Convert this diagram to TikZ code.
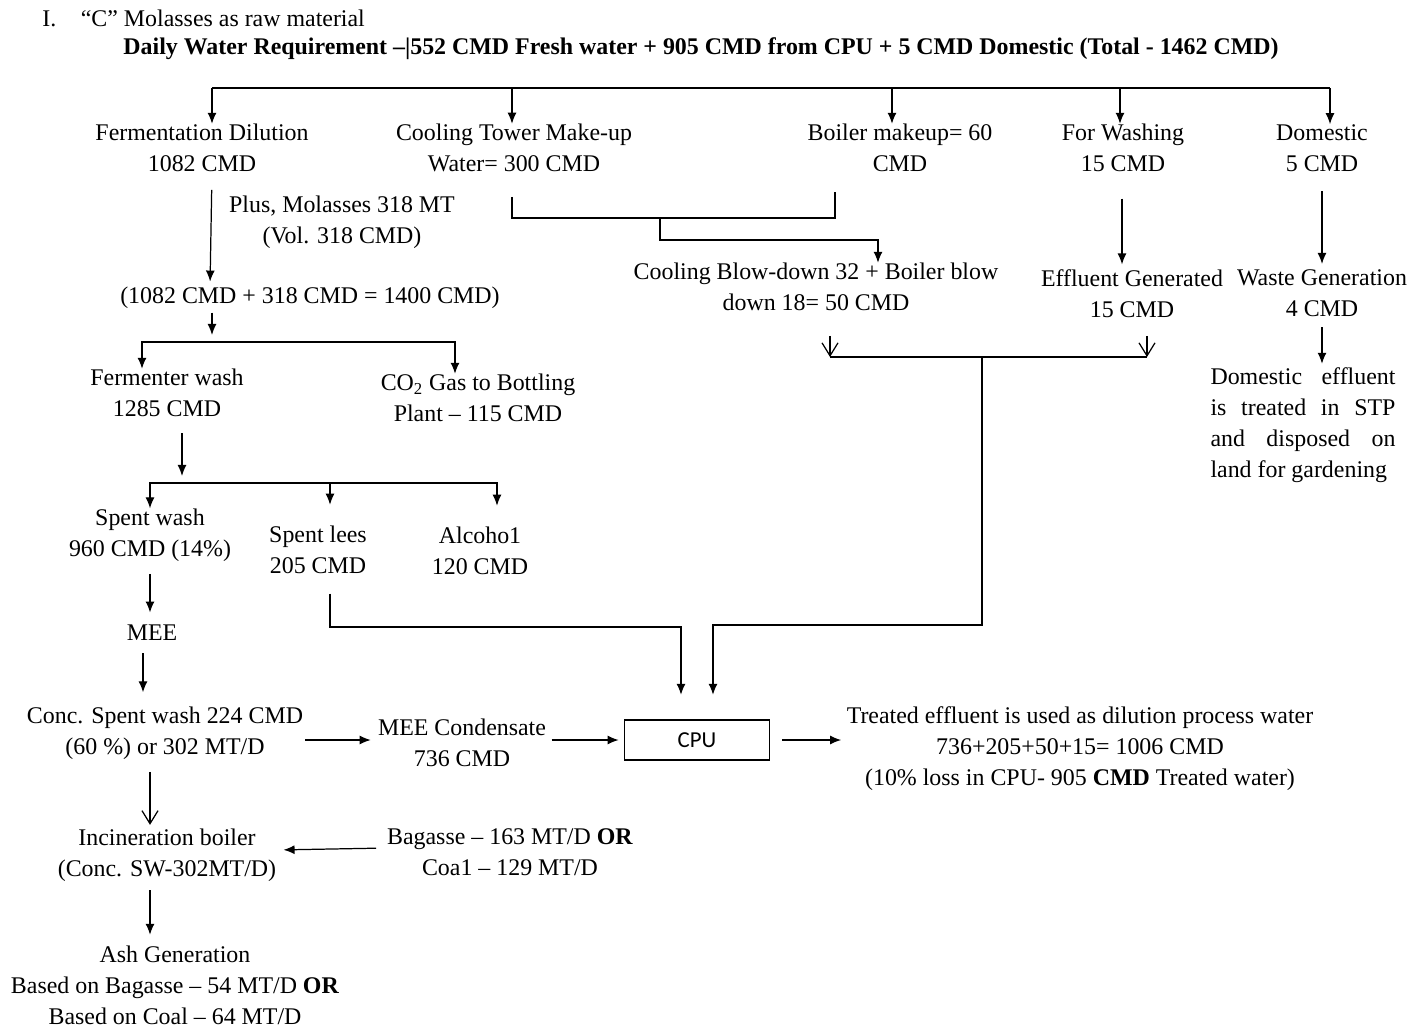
\documentclass[tikz,border=0pt]{standalone}
\usepackage{fontspec}
\setmainfont{Liberation Serif}
\newfontfamily\cpufont{Carlito}
\usetikzlibrary{arrows.meta, positioning}
\tikzstyle{txt} = [inner sep=0pt, align=center, font=\fontsize{13.6pt}{17.6pt}\selectfont]
\tikzstyle{unit} = [draw, rectangle, line width=0.7pt, minimum width=2.9cm, minimum height=0.8cm, inner sep=0pt, font=\cpufont\fontsize{13pt}{15pt}\selectfont]
\tikzstyle{pipe} = [line width=0.7pt]
\tikzstyle{cable} = [pipe, -{Latex[length=2.2mm,width=1.8mm]}]
\tikzstyle{vent} = [pipe, -{Straight Barb[length=2.6mm,width=3.2mm]}]

\begin{document}
\begin{tikzpicture}[x=0.02cm, y=-0.02cm]
\useasboundingbox (0,0) rectangle (1414,1031);
  % heading
  \node (head) [txt, anchor=west] at (42,18) {I.\hspace{14pt}“C” Molasses as raw material};
  \node (req) [txt, font=\bfseries\fontsize{13.6pt}{17.6pt}\selectfont] at (701,49) {Daily Water Requirement –|552 CMD Fresh water + 905 CMD from CPU + 5 CMD Domestic (Total - 1462 CMD)};

  % water split
  \node (ferm) [txt] at (202,148) {Fermentation Dilution\\1082 CMD};
  \node (cool) [txt] at (514,148) {Cooling Tower Make-up\\Water= 300 CMD};
  \node (boil) [txt] at (900,148) {Boiler makeup= 60\\CMD};
  \node (wash) [txt] at (1123,148) {For Washing\\15 CMD};
  \node (dom) [txt] at (1322,148) {Domestic\\5 CMD};
  \draw [pipe] (212,88) -- (1330,88);
  \foreach \x/\n in {212/ferm, 512/cool, 892/boil, 1120/wash, 1330/dom}
    \draw [cable] (\x,88) -- (\n.north -| \x,88);

  % fermentation
  \node (plus) [txt] at (342,222) {Plus, Molasses 318 MT\\(Vol. 318 CMD)};
  \node (sum) [txt] at (310,298) {(1082 CMD + 318 CMD = 1400 CMD)};
  \draw [cable, shorten <=10pt, shorten >=3pt] (ferm.south -| 212,0) -- (sum.north -| 210,0);
  \coordinate (fk2) at (212,342);
  \draw [cable, shorten <=2pt, shorten >=4pt] (sum.south -| fk2) -- (fk2);
  \node (fwash) [txt] at (167,393) {Fermenter wash\\1285 CMD};
  \node (co2) [txt] at (478,398) {CO\textsubscript{2} Gas to Bottling\\Plant – 115 CMD};
  \draw [cable] (fk2) -| (fwash.north -| 142,0);
  \draw [cable] (fk2) -| (co2.north -| 455,0);

  \coordinate (fk3) at (182,483);
  \draw [cable, shorten <=9pt, shorten >=4pt] (fwash.south -| fk3) -- (fk3);
  \node (spent) [txt] at (150,535) {Spent wash\\960 CMD (14\%)};
  \node (lees) [txt] at (318,550) {Spent lees\\205 CMD};
  \node (alc) [txt] at (480,551) {Alcoho1\\120 CMD};
  \draw [cable] (fk3) -| (spent.north -| 150,0);
  \draw [cable, shorten >=12pt] (fk3) -| (lees.north -| 330,0);
  \draw [cable, shorten >=12pt] (fk3) -| (alc.north -| 497,0);

  % spent wash treatment
  \node (mee) [txt] at (152,633) {MEE};
  \node (conc) [txt] at (165,733) {Conc. Spent wash 224 CMD\\(60 \%) or 302 MT/D};
  \node (meec) [txt] at (462,743) {MEE Condensate\\736 CMD};
  \node (cpu) [unit] at (697,740) {CPU};
  \node (treated) [txt] at (1080,749) {Treated effluent is used as dilution process water\\736+205+50+15= 1006 CMD\\(10\% loss in CPU- 905 \textbf{CMD} Treated water)};
  \draw [cable, shorten <=7pt, shorten >=7pt] (spent.south -| 150,0) -- (mee.north -| 150,0);
  \draw [cable, shorten <=7pt, shorten >=8pt] (mee.south -| 143,0) -- (conc.north -| 143,0);
  \draw [cable, shorten <=1pt, shorten >=4pt] (conc.east |- 0,740) -- (meec.west |- 0,740);
  \draw [cable, shorten <=3pt, shorten >=3pt] (meec.east |- cpu) -- (cpu.west);
  \draw [cable, shorten <=7pt, shorten >=3pt] (cpu.east) -- (treated.west |- cpu);

  % spent lees to CPU
  \coordinate (lj) at (681,627);
  \draw [cable, shorten <=11pt, shorten >=14pt] (lees.south -| 330,0) |- (lj) -- (cpu.north -| lj);

  % blow-down and washing effluent
  \node (blow) [txt] at (816,287) {Cooling Blow-down 32 + Boiler blow\\down 18= 50 CMD};
  \node (effl) [txt] at (1132,294) {Effluent Generated\\15 CMD};
  \node (waste) [txt] at (1322,293) {Waste Generation\\4 CMD};
  \node (domtxt) [txt, align=justify, text width=3.7cm] at (1303,425) {Domestic effluent\linebreak is treated in STP\linebreak and disposed on\linebreak land for gardening};
  \draw [pipe, shorten <=14pt, shorten >=11pt] (cool.south -| 512,0) |- (835,218) -- (boil.south -| 835,0);
  \coordinate (cb) at (660,218);
  \coordinate (cb2) at (878,240);
  \draw [cable] (cb) |- (cb2) -- (blow.north -| cb2);
  \draw [cable, shorten <=15pt, shorten >=3pt] (wash.south -| 1122,0) -- (effl.north -| 1122,0);
  \draw [cable, shorten <=11pt, shorten >=3pt] (dom.south -| 1322,0) -- (waste.north -| 1322,0);
  \draw [cable, shorten <=6pt, shorten >=2pt] (waste.south -| 1322,0) -- (domtxt.north -| 1322,0);

  \coordinate (cl) at (830,357);
  \coordinate (cr) at (1147,357);
  \coordinate (rj) at (982,357);
  \coordinate (rk) at (713,625);
  \draw [pipe] (cl) -- (cr);
  \draw [vent, shorten <=14pt] (blow.south -| cl) -- (cl);
  \draw [vent, shorten <=10pt] (effl.south -| cr) -- (cr);
  \draw [cable, shorten >=14pt] (rj) -- (rj |- rk) -- (rk) -- (cpu.north -| rk);

  % incineration
  \node (incin) [txt] at (167,855) {Incineration boiler\\(Conc. SW-302MT/D)};
  \node (bag) [txt] at (510,852) {Bagasse – 163 MT/D \textbf{OR}\\Coa1 – 129 MT/D};
  \node (ash) [txt] at (175,985) {Ash Generation\\Based on Bagasse – 54 MT/D \textbf{OR}\\Based on Coal – 64 MT/D};
  \draw [vent, shorten <=7pt, shorten >=2pt] (conc.south -| 150,0) -- (incin.north -| 150,0);
  \draw [cable, shorten <=6pt, shorten >=4pt] (bag.west |- 0,848) -- (incin.east |- 0,850);
  \draw [cable, shorten <=5pt, shorten >=6pt] (incin.south -| 150,0) -- (ash.north -| 150,0);
\end{tikzpicture}
\end{document}
